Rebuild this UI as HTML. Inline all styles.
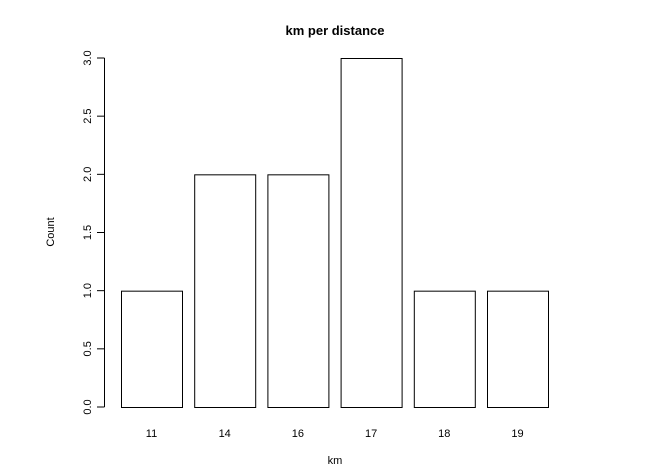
<!DOCTYPE html>
<html><head><meta charset="utf-8"><style>
body{margin:0;background:#fff;}
svg text{font-family:"Liberation Sans",sans-serif;fill:#000;}
</style></head><body>
<svg id="chart" width="659" height="471" xmlns="http://www.w3.org/2000/svg">
<text x="335" y="35" text-anchor="middle" font-size="13" font-weight="bold">km per distance</text>
<text x="335" y="464" text-anchor="middle" font-size="11">km</text>
<text transform="translate(54,232) rotate(-90)" text-anchor="middle" font-size="11">Count</text>
<g id="axis"></g><g id="bars"></g>
</svg>
<script>
const categories=["11","14","16","17","18","19"];
const counts=[1,2,2,3,1,1];
const yTicks=[0,0.5,1,1.5,2,2.5,3];
const yTickLabels=["0.0","0.5","1.0","1.5","2.0","2.5","3.0"];
const NS="http://www.w3.org/2000/svg";
const y0=407,yTop=58,yMax=3;
function y(v){return y0-(v/yMax)*(y0-yTop);}
function xl(i){return 121+i*73.2;}
const bw=61;
const ax=document.getElementById('axis'),bars=document.getElementById('bars');
function mk(t,a,p){const e=document.createElementNS(NS,t);for(const k in a)e.setAttribute(k,a[k]);p.appendChild(e);return e;}
const al=mk('line',{x1:104.5,x2:104.5,y1:y(yTicks[0]),y2:y(yTicks[yTicks.length-1]),stroke:'#000'},ax);


yTicks.forEach((v,i)=>{
 const t=mk('line',{x1:97,x2:104.5,y1:y(v),y2:y(v),stroke:'#000'},ax);
 
 
 const l=mk('text',{transform:`translate(91,${y(v)}) rotate(-90)`,'text-anchor':'middle','font-size':'11'},ax);
 l.textContent=yTickLabels[i];
 
 
});
categories.forEach((c,i)=>{
 const r=mk('rect',{x:xl(i)+0.5,y:y(counts[i])+0.5,width:bw,height:y(0)-y(counts[i]),fill:'#fff',stroke:'#000'},bars);
 
 
 const l=mk('text',{x:xl(i)+bw/2,y:437,'text-anchor':'middle','font-size':'11'},bars);
 l.textContent=c;
 
 
});
</script>
</body></html>
